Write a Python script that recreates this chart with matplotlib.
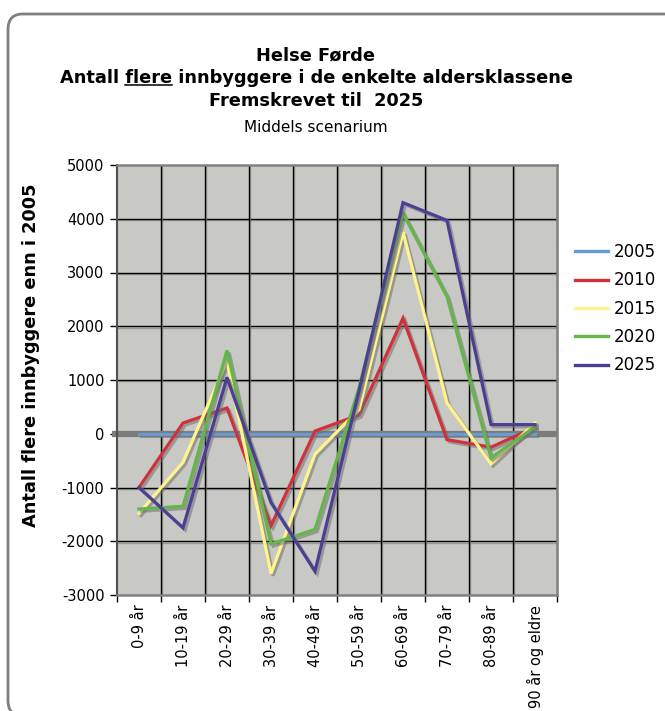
import matplotlib
matplotlib.use("Agg")
import matplotlib.pyplot as plt
import matplotlib.patheffects as pe
from matplotlib.patches import FancyBboxPatch
from matplotlib.ticker import FixedLocator, NullFormatter

categories = ["0-9 år", "10-19 år", "20-29 år", "30-39 år", "40-49 år",
              "50-59 år", "60-69 år", "70-79 år", "80-89 år", "90 år og eldre"]
years = ["2005", "2010", "2015", "2020", "2025"]
v2005 = [0, 0, 0, 0, 0, 0, 0, 0, 0, 0]
v2010 = [-1000, 200, 480, -1710, 50, 350, 2150, -110, -250, 120]
v2015 = [-1480, -530, 1350, -2600, -380, 450, 3750, 570, -560, 200]
v2020 = [-1400, -1350, 1550, -2050, -1780, 850, 4100, 2550, -450, 130]
v2025 = [-1000, -1750, 1050, -1280, -2560, 800, 4300, 3970, 170, 170]
series = [v2005, v2010, v2015, v2020, v2025]
colors = ["#6A9BD0", "#D0323A", "#FFF48A", "#62B64A", "#4B3F92"]
yticks = [-3000, -2000, -1000, 0, 1000, 2000, 3000, 4000, 5000]

W, H = 665, 711
fig = plt.figure(figsize=(W / 100, H / 100), dpi=100)
fig.patch.set_facecolor("white")

# outer rounded frame
frame = FancyBboxPatch((8 / W, 1 - 716 / H), (760 - 8) / W, (716 - 14) / H,
                       boxstyle="round,pad=0,rounding_size=0.022",
                       transform=fig.transFigure, facecolor="none",
                       edgecolor="#7F7F7F", linewidth=2.0, zorder=0)
fig.patches.append(frame)

ax = fig.add_axes([117 / W, 1 - 595 / H, (557 - 117) / W, (595 - 165) / H])
ax.set_facecolor("#C8C8C4")
x = list(range(len(categories)))
ax.set_xlim(-0.5, len(categories) - 0.5)
ax.set_ylim(-3000, 5000)

grid_fx = [pe.SimpleLineShadow(offset=(1, -1), shadow_color="#7A7A7A", alpha=0.6), pe.Normal()]
for yv in yticks[1:-1]:
    if yv == 0:
        continue
    ax.axhline(yv, color="black", lw=1.0, zorder=1, path_effects=grid_fx)
for k in range(1, len(categories)):
    ax.axvline(k - 0.5, color="black", lw=1.0, zorder=1, path_effects=grid_fx)

# thick grey zero axis line
ax.plot([-0.62, len(categories) - 0.5], [0, 0], color="#7C7C7A", lw=4.5,
        solid_capstyle="butt", zorder=2, clip_on=False)

line_fx = [pe.SimpleLineShadow(offset=(1.6, -1.6), shadow_color="#707070", alpha=0.55), pe.Normal()]
for s, c, lab in zip(series, colors, years):
    ax.plot(x, s, color=c, lw=2.3, zorder=3, label=lab, path_effects=line_fx,
            solid_joinstyle="miter")

ax.set_yticks(yticks)
ax.set_yticklabels([str(v) for v in yticks], fontsize=10.5)
ax.set_xticks(x)
ax.set_xticklabels(categories, rotation=90, fontsize=10.5, va="top", ha="center")
ax.tick_params(axis="x", which="major", length=0, pad=7)
ax.xaxis.set_minor_locator(FixedLocator([k - 0.5 for k in range(len(categories) + 1)]))
ax.xaxis.set_minor_formatter(NullFormatter())
ax.tick_params(axis="x", which="minor", length=5, color="black", width=1)
ax.tick_params(axis="y", length=5, color="black", width=1, pad=4)

for side in ["top", "right", "bottom"]:
    ax.spines[side].set_color("#808080")
    ax.spines[side].set_linewidth(1.8)
ax.spines["left"].set_color("#505050")
ax.spines["left"].set_linewidth(1.5)

ax.set_ylabel("Antall flere innbyggere enn i 2005", fontsize=12.8, fontweight="bold")
ax.yaxis.set_label_coords((40 - 117) / 440, (595 - 355) / 430)

# legend
leg = fig.legend(*ax.get_legend_handles_labels(), loc="upper left",
                 bbox_to_anchor=(575 / W, 1 - 243 / H), frameon=False,
                 fontsize=12, handlelength=2.0, handletextpad=0.35, labelspacing=0.62,
                 borderaxespad=0, borderpad=0)
for h in leg.get_lines():
    h.set_linewidth(2.4)
    h.set_path_effects([])

# titles
cx = 316 / W
tfs = 12.8
fig.text(cx, 1 - 55 / H, "Helse Førde", ha="center", va="center", fontsize=tfs, fontweight="bold")
t2 = fig.text(cx, 1 - 78 / H, "Antall flere innbyggere i de enkelte aldersklassene",
              ha="center", va="center", fontsize=tfs, fontweight="bold")
fig.text(cx, 1 - 101 / H, "Fremskrevet til  2025", ha="center", va="center", fontsize=tfs, fontweight="bold")
fig.text(cx, 1 - 127 / H, "Middels scenarium", ha="center", va="center", fontsize=11)

# underline "flere"
fig.canvas.draw()
r = fig.canvas.get_renderer()
bb = t2.get_window_extent(r)
tmp1 = fig.text(0, 0, "Antall ", fontsize=tfs, fontweight="bold")
tmp2 = fig.text(0, 0, "Antall flere", fontsize=tfs, fontweight="bold")
w1 = tmp1.get_window_extent(r).width
w2 = tmp2.get_window_extent(r).width
tmp1.remove(); tmp2.remove()
x0 = (bb.x0 + w1) / fig.bbox.width
x1 = (bb.x0 + w2) / fig.bbox.width
yl = (bb.y0 + 2.5) / fig.bbox.height
fig.add_artist(plt.Line2D([x0, x1], [yl, yl], color="black", lw=1.1, transform=fig.transFigure))

fig.savefig("out.png", dpi=100, facecolor="white")
